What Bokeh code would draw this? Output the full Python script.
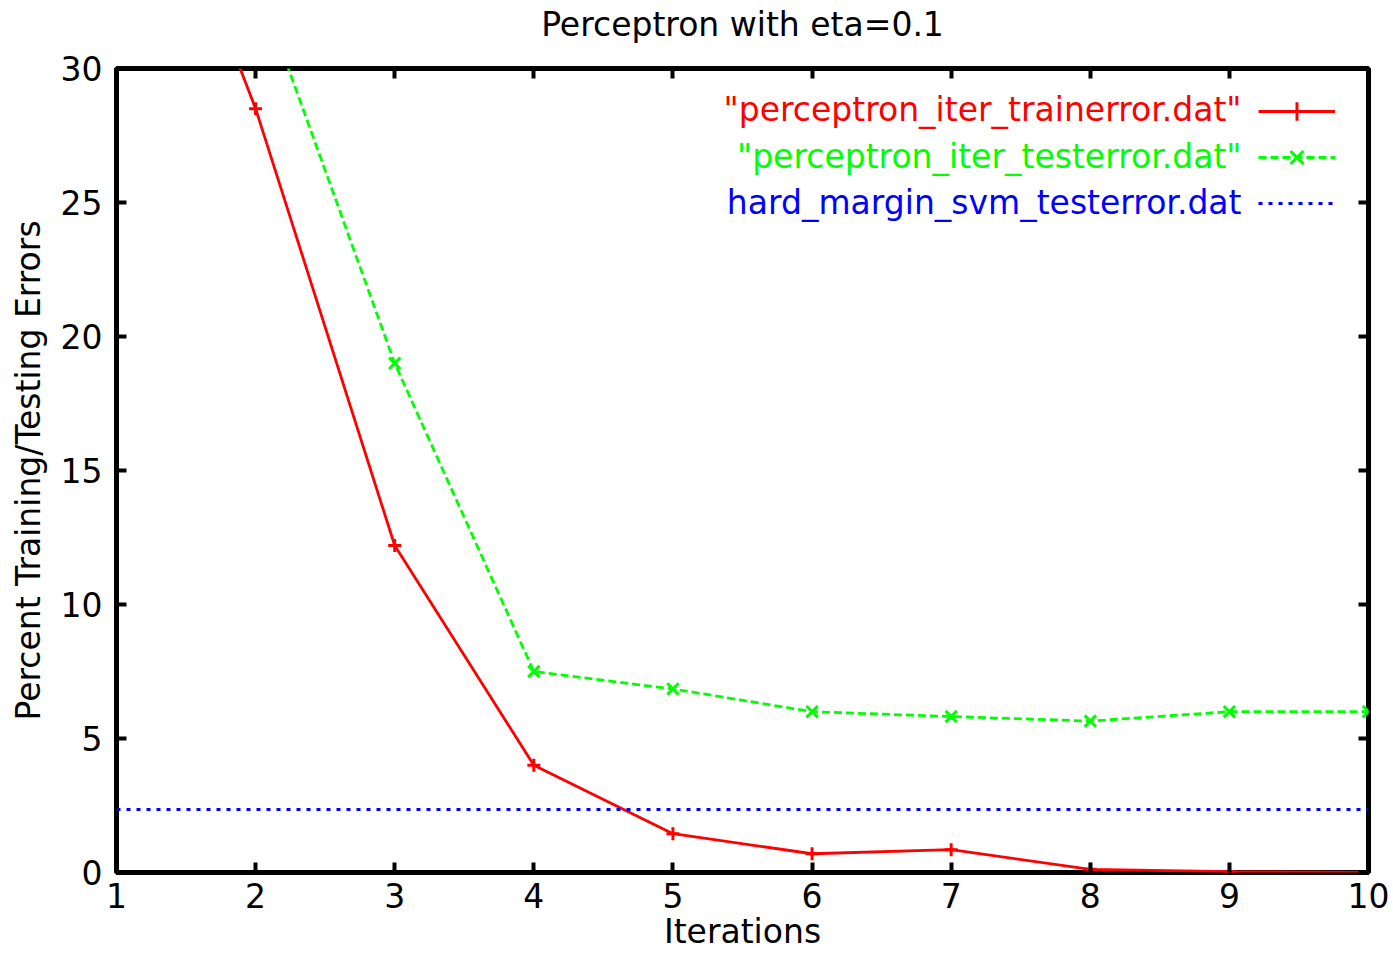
from bokeh.plotting import figure
from bokeh.models import (LinearAxis, FixedTicker, Legend, LegendItem, Label,
                          Range1d, ColumnDataSource)
from bokeh.embed import file_html
from bokeh.resources import INLINE

# ---- data ----
iterations = [1, 2, 3, 4, 5, 6, 7, 8, 9, 10]
train_error = [42.0, 28.5, 12.2, 4.0, 1.45, 0.7, 0.85, 0.12, 0.03, 0.0]
test_error = [45.0, 33.4, 19.0, 7.5, 6.85, 6.0, 5.82, 5.65, 6.0, 6.0]
svm_error = [2.35, 2.35, 2.35, 2.35, 2.35, 2.35, 2.35, 2.35, 2.35, 2.35]
x_ticks = [1, 2, 3, 4, 5, 6, 7, 8, 9, 10]
y_ticks = [0, 5, 10, 15, 20, 25, 30]
series_labels = ['"perceptron_iter_trainerror.dat"',
                 '"perceptron_iter_testerror.dat"',
                 'hard_margin_svm_testerror.dat']
series_colors = ["#ff0000", "#00ff00", "#0000ff"]
title_text = "Perceptron with eta=0.1"
x_label = "Iterations"
y_label = "Percent Training/Testing Errors"

FONT = "DejaVu Sans"
FS = "33px"

src = ColumnDataSource(dict(x=iterations, train=train_error, test=test_error, svm=svm_error))

p = figure(width=1393, height=953, output_backend="svg", toolbar_location=None,
           x_range=Range1d(1, 10), y_range=Range1d(0, 30),
           min_border_left=116, min_border_right=25, min_border_top=68, min_border_bottom=81)

p.grid.visible = False
p.outline_line_color = "black"
p.outline_line_width = 5
p.outline_line_alpha = 1.0
p.background_fill_color = "white"
p.border_fill_color = "white"

# main axes
for ax, ticks in ((p.xaxis[0], x_ticks), (p.yaxis[0], y_ticks)):
    ax.ticker = FixedTicker(ticks=ticks)
    ax.major_tick_in = 10
    ax.major_tick_out = 0
    ax.major_tick_line_width = 4
    ax.major_tick_line_color = "black"
    ax.minor_tick_line_color = None
    ax.axis_line_color = None
    ax.major_label_text_font = FONT
    ax.major_label_text_font_size = FS
    ax.major_label_text_color = "black"
    ax.axis_label_text_font = FONT
    ax.axis_label_text_font_size = FS
    ax.axis_label_text_font_style = "normal"
    ax.axis_label_text_color = "black"

p.xaxis.axis_label = x_label
p.xaxis.major_label_standoff = 10
p.xaxis.axis_label_standoff = 1
p.yaxis.axis_label = y_label
p.yaxis.major_label_standoff = 14
p.yaxis.axis_label_standoff = 10

# mirrored ticks on top (carrying the plot title, gnuplot-style) and right
top_axis = LinearAxis(ticker=FixedTicker(ticks=x_ticks), major_label_text_font_size="0px",
                      major_label_text_color=None, major_label_standoff=0,
                      major_tick_in=10, major_tick_out=0,
                      major_tick_line_width=4, minor_tick_line_color=None,
                      axis_line_color=None,
                      axis_label=title_text, axis_label_standoff=25,
                      axis_label_text_font=FONT, axis_label_text_font_size=FS,
                      axis_label_text_font_style="normal", axis_label_text_color="black")
p.add_layout(top_axis, "above")

right_axis = LinearAxis(ticker=FixedTicker(ticks=y_ticks), major_label_text_font_size="0px",
                        major_label_text_color=None, major_label_standoff=0,
                        major_tick_in=10, major_tick_out=0,
                        major_tick_line_width=4, minor_tick_line_color=None,
                        axis_line_color=None)
p.add_layout(right_axis, "right")

# series
r_train = p.line("x", "train", source=src, line_color=series_colors[0], line_width=2.8)
m_train = p.scatter("x", "train", source=src, marker="cross", size=13,
                    line_color=series_colors[0], line_width=3)
r_test = p.line("x", "test", source=src, line_color=series_colors[1], line_width=2.8,
                line_dash="8 4")
m_test = p.scatter("x", "test", source=src, marker="x", size=16,
                   line_color=series_colors[1], line_width=3)
r_svm = p.line("x", "svm", source=src, line_color=series_colors[2], line_width=3,
               line_dash="4 6")

# gnuplot-style key: samples on the right, coloured text right-aligned on the left
legend = Legend(items=[LegendItem(label=" ", renderers=[r_train, m_train]),
                       LegendItem(label=" ", renderers=[r_test, m_test]),
                       LegendItem(label=" ", renderers=[r_svm])],
                location=(1142, 646), glyph_width=77, glyph_height=46,
                label_width=0, label_standoff=0, label_height=46,
                label_text_color=None, label_text_alpha=0,
                padding=0, margin=0, spacing=0,
                border_line_color=None, background_fill_alpha=0)
p.add_layout(legend)

row_y = [763, 716, 670]
for txt, col, yy in zip(series_labels, series_colors, row_y):
    p.add_layout(Label(x=1125, y=yy, x_units="screen", y_units="screen", text=txt,
                       text_align="right", text_baseline="middle", text_color=col,
                       text_font=FONT, text_font_size=FS))

open("out.html", "w").write(file_html(p, INLINE))
